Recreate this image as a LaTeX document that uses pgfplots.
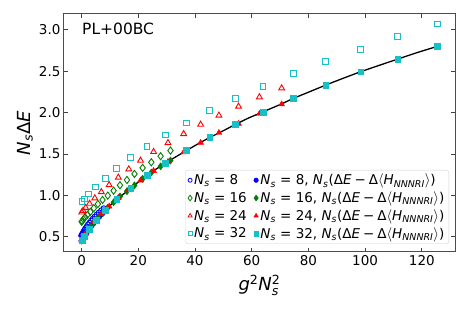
\documentclass[border=0pt]{standalone}
\usepackage{fontspec}
\setmainfont{DejaVu Sans}
\usepackage{amsmath}
\usepackage{pgfplots}
\pgfplotsset{compat=1.18}
\definecolor{mblue}{rgb}{0,0,1}
\definecolor{mgreen}{rgb}{0,0.5,0}
\definecolor{mred}{rgb}{1,0,0}
\definecolor{mcyan}{rgb}{0.09,0.75,0.78}
\newcommand{\Ns}{$\textit{N}_{\textit{s}}$}
\newcommand{\corr}{\Ns(Δ\textit{E}\hspace{0.22em}−\hspace{0.22em}Δ$\langle$\textit{H}$_{\textit{NNNRI}}\rangle$)}

\pgfplotstableread{
x y
0.0064 0.51
0.0576 0.515
0.16 0.52
0.3136 0.53
0.5184 0.545
0.7744 0.56
1.0816 0.58
1.44 0.60
1.8496 0.62
2.3104 0.645
2.8224 0.665
3.3856 0.69
4.0 0.715
4.6656 0.74
5.3824 0.765
6.1504 0.79
6.9696 0.815
7.84 0.84
}\openA
\pgfplotstableread{
x y
0.0064 0.45
0.0576 0.452
0.16 0.46
0.3136 0.47
0.5184 0.485
0.7744 0.50
1.0816 0.515
1.44 0.535
1.8496 0.555
2.3104 0.58
2.8224 0.605
3.3856 0.63
4.0 0.655
4.6656 0.68
5.3824 0.71
6.1504 0.74
6.9696 0.77
7.84 0.80
}\fillA
\pgfplotstableread{
x y
0.0256 0.68
0.2304 0.69
0.64 0.71
1.254 0.735
2.074 0.765
3.098 0.80
4.326 0.845
5.76 0.895
7.398 0.944
9.242 0.996
11.29 1.056
13.54 1.121
16.0 1.185
18.66 1.258
21.53 1.331
24.60 1.399
27.88 1.472
31.36 1.54
}\openB
\pgfplotstableread{
x y
0.0256 0.452
0.2304 0.463
0.64 0.487
1.254 0.525
2.074 0.568
3.098 0.62
4.326 0.673
5.76 0.73
7.398 0.79
9.242 0.85
11.29 0.915
13.54 0.985
16.0 1.05
18.66 1.12
21.53 1.20
24.60 1.275
27.88 1.35
31.36 1.42
}\fillB
\pgfplotstableread{
x y
0.0576 0.795
0.518 0.815
1.44 0.85
2.82 0.90
4.67 0.965
6.97 1.04
9.73 1.125
12.96 1.215
16.65 1.315
20.79 1.42
25.40 1.525
30.47 1.633
36.0 1.742
41.99 1.855
48.44 1.964
55.35 2.073
62.73 2.186
70.56 2.294
}\openC
\pgfplotstableread{
x y
0.0576 0.453
0.518 0.48
1.44 0.535
2.82 0.61
4.67 0.69
6.97 0.775
9.73 0.865
12.96 0.97
16.65 1.07
20.79 1.18
25.40 1.295
30.47 1.405
36.0 1.52
41.99 1.635
48.44 1.755
55.35 1.865
62.73 1.985
70.56 2.10
}\fillC
\pgfplotstableread{
x y
0.1024 0.923
0.9216 0.956
2.56 1.016
5.0176 1.10
8.2944 1.206
12.39 1.327
17.31 1.456
23.04 1.589
29.59 1.730
36.97 1.875
45.16 2.024
54.17 2.169
64.0 2.319
74.65 2.468
86.12 2.617
98.41 2.766
111.51 2.919
125.44 3.069
}\openD
\pgfplotstableread{
x y
0.1024 0.455
0.9216 0.505
2.56 0.59
5.0176 0.70
8.2944 0.82
12.39 0.952
17.31 1.085
23.04 1.238
29.59 1.387
36.97 1.54
45.16 1.698
54.17 1.855
64.0 2.008
74.65 2.169
86.12 2.331
98.41 2.492
111.51 2.645
125.44 2.798
}\fillD
\pgfplotstableread{
x y
0 0.45
1 0.51
2 0.565
3 0.615
4 0.66
5 0.70
6 0.74
8 0.81
10 0.875
12.4 0.952
15 1.02
17.3 1.085
20 1.16
23 1.238
26 1.31
29.6 1.387
33 1.46
37 1.54
41 1.62
45.2 1.698
50 1.78
54.2 1.855
59 1.935
64 2.008
70.6 2.105
74.6 2.169
80 2.245
86.1 2.331
92 2.41
98.4 2.492
105 2.57
111.5 2.645
118 2.72
125.4 2.798
}\fitline

\begin{document}
\begin{tikzpicture}
\useasboundingbox (-64pt,-61pt) rectangle (405pt,252pt);
\begin{axis}[
  at={(0,0)}, anchor=south west,
  scale only axis, width=391pt, height=238pt,
  xmin=-6.2, xmax=131.7, ymin=0.315, ymax=3.19,
  xtick={0,20,...,120},
  ytick={0.5,1.0,...,3.0},
  yticklabel style={/pgf/number format/.cd, fixed, fixed zerofill, precision=1},
  /pgf/number format/assume math mode=true,
  tick label style={font=\fontsize{13.5}{15}\selectfont},
  tick align=inside,
  major tick length=4pt,
  every tick/.style={black!75, line width=0.8pt},
  axis line style={black!70, line width=1pt},
  xlabel={\textit{g}$^{\text{2}}$\textit{N}$^{\text{2}}_{\textit{s}}$},
  ylabel={\Ns Δ\textit{E}},
  every axis x label/.style={at={(axis description cs:0.5,-0.14)}, anchor=center, font=\fontsize{18}{20}\selectfont},
  every axis y label/.style={at={(axis description cs:-0.0998,0.5)}, anchor=center, rotate=90, font=\fontsize{18}{20}\selectfont},
  legend columns=2,
  legend cell align=left,
  legend style={at={(axis description cs:1,0)}, anchor=south east, xshift=-6pt, yshift=8pt,
     draw=black!18, rounded corners=2.5pt, font=\fontsize{13.5}{15}\selectfont,
     inner xsep=2.5pt, inner ysep=2pt, row sep=1.5pt,
     nodes={inner xsep=2pt, inner ysep=2pt},
     /tikz/every even column/.append style={column sep=5pt}},
  legend image code/.code={\draw[mark repeat=2,mark phase=2,#1] plot coordinates {(0pt,0pt)(4pt,0pt)(8pt,0pt)};},
]
\addplot[only marks, mark=o, mblue, mark size=2.8pt, line width=0.9pt, forget plot] table {\openA};
\addplot[only marks, mark=diamond, mgreen, mark size=3.6pt, line width=0.9pt, forget plot] table {\openB};
\addplot[only marks, mark=triangle, mred, mark size=3.4pt, line width=0.9pt, forget plot] table {\openC};
\addplot[only marks, mark=square, mcyan, mark size=2.9pt, line width=0.9pt, forget plot] table {\openD};
\addplot[only marks, mark=*, mblue, mark size=2.8pt, forget plot] table {\fillA};
\addplot[only marks, mark=diamond*, mgreen, mark size=3.6pt, forget plot] table {\fillB};
\addplot[only marks, mark=triangle*, mred, mark size=3.4pt, forget plot] table {\fillC};
\addplot[only marks, mark=square*, mcyan, mark size=2.9pt, forget plot] table {\fillD};
\addplot[black, line width=1.3pt, smooth, forget plot] table {\fitline};

\addlegendimage{only marks, mark=o, mblue, mark size=2pt, line width=0.8pt}
\addlegendentry{\Ns{} = 8}
\addlegendimage{only marks, mark=*, mblue, mark size=2.3pt}
\addlegendentry{\Ns{} = 8, \corr}
\addlegendimage{only marks, mark=diamond, mgreen, mark size=2.8pt, line width=0.8pt}
\addlegendentry{\Ns{} = 16}
\addlegendimage{only marks, mark=diamond*, mgreen, mark size=3pt}
\addlegendentry{\Ns{} = 16, \corr}
\addlegendimage{only marks, mark=triangle, mred, mark size=2.4pt, line width=0.8pt}
\addlegendentry{\Ns{} = 24}
\addlegendimage{only marks, mark=triangle*, mred, mark size=2.6pt}
\addlegendentry{\Ns{} = 24, \corr}
\addlegendimage{only marks, mark=square, mcyan, mark size=2pt, line width=0.8pt}
\addlegendentry{\Ns{} = 32}
\addlegendimage{only marks, mark=square*, mcyan, mark size=2.3pt}
\addlegendentry{\Ns{} = 32, \corr}

\node[anchor=base west, inner sep=0pt, font=\fontsize{15.5}{17}\selectfont] at (axis description cs:0.046,0.912) {PL+00BC};
\end{axis}
\end{tikzpicture}
\end{document}
